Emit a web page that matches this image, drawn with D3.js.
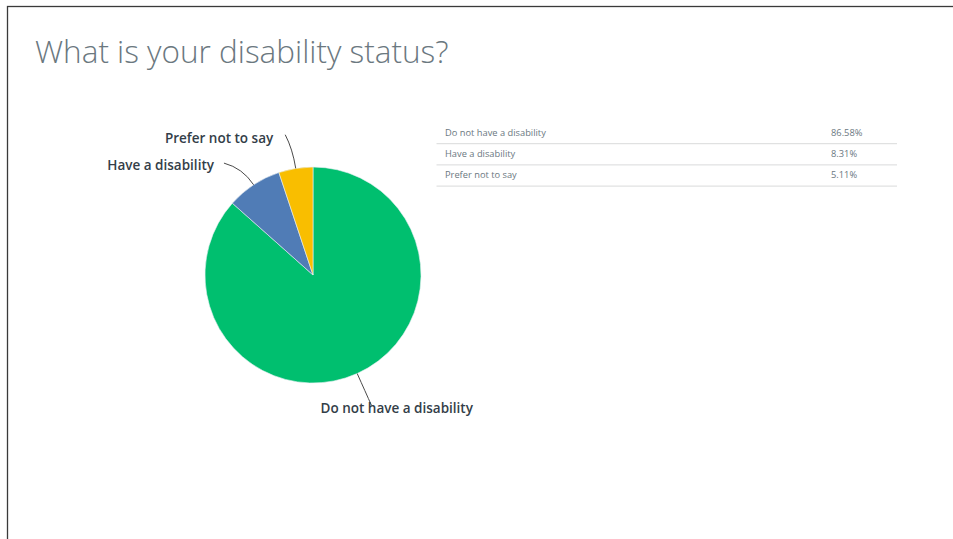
<!DOCTYPE html>
<html>
<head>
<meta charset="utf-8">
<script src="https://cdn.jsdelivr.net/npm/d3@7"></script>
<style>
  html, body { margin: 0; padding: 0; background: #fff; }
  svg { display: block; }
</style>
</head>
<body>
<svg id="chart" width="953" height="539"></svg>
<script>
const categories = ["Do not have a disability", "Have a disability", "Prefer not to say"];
const shares = [86.58, 8.31, 5.11];
const shareLabels = ["86.58%", "8.31%", "5.11%"];
const colors = ["#00bf6f", "#507cb6", "#f9be00"];

const svg = d3.select("#chart");

// frame around the card
svg.append("rect").attr("x", 7.5).attr("y", 6.5).attr("width", 960).attr("height", 560)
  .attr("fill", "none").attr("stroke", "#3a3a3a").attr("stroke-width", 1.3);

svg.append("text").attr("x", 35).attr("y", 63)
  .attr("font-family", "Open Sans").attr("font-weight", 300).attr("font-size", 31.5)
  .attr("fill", "#6b787f").text("What is your disability status?");

// pie, clockwise from 12 o'clock in category order
const cx = 313, cy = 275, r = 108;
const pie = d3.pie().sort(null).value(d => d);
const arcs = pie(shares);
const arc = d3.arc().innerRadius(0).outerRadius(r);
const g = svg.append("g").attr("transform", `translate(${cx},${cy})`);
g.selectAll("path.slice").data(arcs).join("path")
  .attr("class", "slice").attr("d", arc)
  .attr("fill", (d, i) => colors[i]).attr("stroke", "#e8eef4").attr("stroke-width", 0.6);

// curved leader lines and outside labels
const polar = (rad, a) => [rad * Math.sin(a), -rad * Math.cos(a)];
const leaderTurn = [0, -0.09, -0.035];
const labelOffset = [[-51, 8, "start"], [-10, 7, "end"], [-12, 8.5, "end"]];
arcs.forEach((d, i) => {
  const mid = (d.startAngle + d.endAngle) / 2;
  const s = polar(r, mid);
  const c = polar(128, mid);
  const e = polar(143, mid + leaderTurn[i]);
  g.append("path")
    .attr("d", `M${s[0]},${s[1]}Q${c[0]},${c[1]} ${e[0]},${e[1]}`)
    .attr("fill", "none").attr("stroke", "#4a4a4a").attr("stroke-width", 1);
  const o = labelOffset[i];
  g.append("text").attr("x", e[0] + o[0]).attr("y", e[1] + o[1])
    .attr("text-anchor", o[2])
    .attr("font-family", "Open Sans").attr("font-weight", 600).attr("font-size", 13.5)
    .attr("fill", "#333e48").text(categories[i]);
});

// summary table
const tx0 = 436.5, tx1 = 897, rowH = 21.2, top0 = 122;
categories.forEach((c, i) => {
  const y = top0 + i * rowH;
  svg.append("text").attr("x", 445).attr("y", y + 13.5)
    .attr("font-family", "Open Sans").attr("font-size", 9.3).attr("fill", "#6b787f").text(c);
  svg.append("text").attr("x", 831).attr("y", y + 13.5)
    .attr("font-family", "Open Sans").attr("font-size", 9.3).attr("fill", "#6b787f").text(shareLabels[i]);
  svg.append("line").attr("x1", tx0).attr("x2", tx1).attr("y1", y + rowH + 0.5).attr("y2", y + rowH + 0.5)
    .attr("stroke", "#d9dadb").attr("stroke-width", 1);
});
</script>
</body>
</html>
